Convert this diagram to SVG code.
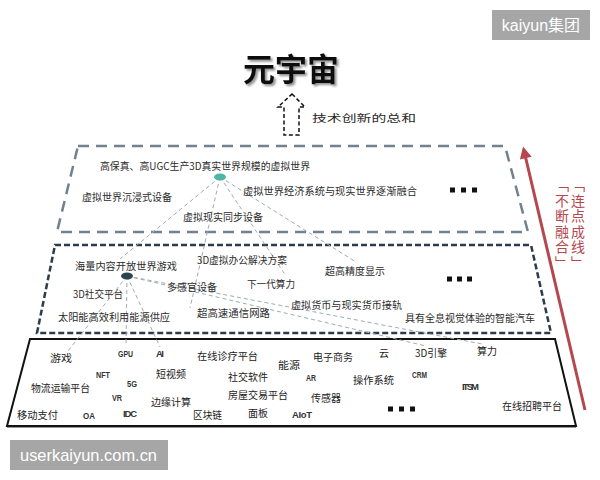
<svg xmlns="http://www.w3.org/2000/svg" width="600" height="480" viewBox="0 0 600 480">
<defs>
<style>
.t{font-family:"Noto Sans CJK SC","Noto Sans",sans-serif;font-size:10px;fill:#2b2b2b}
.b{font-family:"Noto Sans CJK SC","Noto Sans",sans-serif;font-size:10px;fill:#222}
.lat{font-family:"Liberation Sans","Noto Sans",sans-serif;font-size:9.5px;font-weight:bold;fill:#333}
.con{fill:none;stroke:#9fabb3;stroke-width:1;stroke-dasharray:4 3}
.red{font-family:"Noto Sans CJK SC",sans-serif;font-size:14px;fill:#b5474e;writing-mode:vertical-rl;letter-spacing:1.5px}
.wm{font-family:"Liberation Sans","Noto Sans CJK SC",sans-serif;fill:#fff}
</style>
<marker id="rh" viewBox="0 0 10 10" refX="1" refY="5" markerWidth="4.2" markerHeight="4" orient="auto" markerUnits="strokeWidth">
<path d="M0,0 L10,5 L0,10 Z" fill="#b5474e"/>
</marker>
<filter id="sh" x="-10%" y="-10%" width="130%" height="140%"><feDropShadow dx="2" dy="2" stdDeviation="1.2" flood-color="#777" flood-opacity="0.8"/></filter>
</defs>
<rect width="600" height="480" fill="#fff"/>

<g id="title">
<text x="291" y="81" text-anchor="middle" font-family="Noto Sans CJK SC,sans-serif" font-size="32" font-weight="bold" fill="#111" filter="url(#sh)">元宇宙</text>
</g>

<g id="sum-arrow">
<polygon points="292,94 305,107 299,107 299,135 284,135 284,107 278,107" fill="#fff" stroke="#111" stroke-width="1.5" stroke-dasharray="4 2.5"/>
<text x="312" y="122" class="t" font-size="13" textLength="104" lengthAdjust="spacingAndGlyphs">技术创新的总和</text>
</g>

<g id="layers">
<polygon id="layer-top" points="78,146 505,146 528,232 57,232" fill="none" stroke="#71818d" stroke-width="2.5" stroke-dasharray="11 7"/>
<polygon id="layer-mid" points="55,245 531,245 551,333 37,333" fill="none" stroke="#2d3b4a" stroke-width="2.5" stroke-dasharray="6 3"/>
<polygon id="layer-bottom" points="30,339 555,339 576,426 7,426" fill="#fff" stroke="#111" stroke-width="2"/>
<line x1="7" y1="427.5" x2="576" y2="427.5" stroke="#999" stroke-width="1"/>
</g>

<g id="connectors">
<line class="con" x1="220" y1="177" x2="120" y2="259"/>
<line class="con" x1="220" y1="177" x2="190" y2="308"/>
<line class="con" x1="220" y1="177" x2="286" y2="276"/>
<line class="con" x1="220" y1="177" x2="356" y2="262"/>
<line class="con" x1="127" y1="276" x2="68" y2="351"/>
<line class="con" x1="127" y1="276" x2="126" y2="346"/>
<line class="con" x1="127" y1="276" x2="160" y2="347"/>
<line class="con" x1="127" y1="276" x2="426" y2="346"/>
<line class="con" x1="127" y1="276" x2="482" y2="344"/>
</g>

<g id="node-top">
<ellipse cx="220" cy="177" rx="6" ry="3.5" fill="#4db5a5"/>
<text x="100" y="170" class="t" font-size="10.5" textLength="210" lengthAdjust="spacingAndGlyphs">高保真、高UGC生产3D真实世界规模的虚拟世界</text>
<text x="82" y="201" class="t" textLength="90" lengthAdjust="spacingAndGlyphs">虚拟世界沉浸式设备</text>
<text x="243" y="195" class="t" textLength="174" lengthAdjust="spacingAndGlyphs">虚拟世界经济系统与现实世界逐渐融合</text>
<text x="183" y="221" class="t" textLength="80" lengthAdjust="spacingAndGlyphs">虚拟现实同步设备</text>
<g fill="#111"><rect x="450" y="187.5" width="5" height="5"/><rect x="461" y="187.5" width="5" height="5"/><rect x="472" y="187.5" width="5" height="5"/></g>
</g>

<g id="node-mid">
<ellipse cx="127" cy="276" rx="6" ry="3.5" fill="#2c4450"/>
<text x="75" y="270" class="t" textLength="102" lengthAdjust="spacingAndGlyphs">海量内容开放世界游戏</text>
<text x="197" y="264" class="t" textLength="90" lengthAdjust="spacingAndGlyphs">3D虚拟办公解决方案</text>
<text x="73" y="298" class="t" textLength="50" lengthAdjust="spacingAndGlyphs">3D社交平台</text>
<text x="167" y="291" class="t" textLength="50" lengthAdjust="spacingAndGlyphs">多感官设备</text>
<text x="247" y="288" class="t" textLength="48" lengthAdjust="spacingAndGlyphs">下一代算力</text>
<text x="58" y="321" class="t" textLength="112" lengthAdjust="spacingAndGlyphs">太阳能高效利用能源供应</text>
<text x="197" y="317" class="t" textLength="73" lengthAdjust="spacingAndGlyphs">超高速通信网路</text>
<text x="325" y="275" class="t" textLength="60" lengthAdjust="spacingAndGlyphs">超高精度显示</text>
<text x="291" y="309" class="t" textLength="111" lengthAdjust="spacingAndGlyphs">虚拟货币与现实货币接轨</text>
<text x="405" y="322" class="t" textLength="130" lengthAdjust="spacingAndGlyphs">具有全息视觉体验的智能汽车</text>
<g fill="#111"><rect x="447" y="276.5" width="5" height="5"/><rect x="457" y="276.5" width="5" height="5"/><rect x="467" y="276.5" width="5" height="5"/></g>
</g>

<g id="node-bottom">
<text x="50" y="362" class="b" textLength="22" lengthAdjust="spacingAndGlyphs">游戏</text>
<text x="118" y="356.5" class="lat" textLength="15" lengthAdjust="spacingAndGlyphs">GPU</text>
<text x="156" y="356.5" class="lat" textLength="8" lengthAdjust="spacing">AI</text>
<text x="197" y="360" class="b" textLength="61" lengthAdjust="spacingAndGlyphs">在线诊疗平台</text>
<text x="278" y="369" class="b" textLength="22" lengthAdjust="spacingAndGlyphs">能源</text>
<text x="313" y="361" class="b" textLength="40" lengthAdjust="spacingAndGlyphs">电子商务</text>
<text x="379" y="357" class="b">云</text>
<text x="415" y="357" class="b" textLength="32" lengthAdjust="spacingAndGlyphs">3D引擎</text>
<text x="477" y="355" class="b" textLength="20" lengthAdjust="spacingAndGlyphs">算力</text>
<text x="96" y="377.5" class="lat" textLength="14" lengthAdjust="spacingAndGlyphs">NFT</text>
<text x="127" y="386.5" class="lat" textLength="10" lengthAdjust="spacingAndGlyphs">5G</text>
<text x="156" y="378" class="b" textLength="30" lengthAdjust="spacingAndGlyphs">短视频</text>
<text x="228" y="381" class="b" textLength="40" lengthAdjust="spacingAndGlyphs">社交软件</text>
<text x="306" y="380.5" class="lat" textLength="10" lengthAdjust="spacingAndGlyphs">AR</text>
<text x="353" y="384" class="b" textLength="41" lengthAdjust="spacingAndGlyphs">操作系统</text>
<text x="412" y="377.5" class="lat" textLength="15" lengthAdjust="spacingAndGlyphs">CRM</text>
<text x="462" y="389.5" class="lat" textLength="17" lengthAdjust="spacing">ITSM</text>
<text x="31" y="392" class="b" textLength="59" lengthAdjust="spacingAndGlyphs">物流运输平台</text>
<text x="112" y="400.5" class="lat" textLength="10" lengthAdjust="spacingAndGlyphs">VR</text>
<text x="151" y="406" class="b" textLength="40" lengthAdjust="spacingAndGlyphs">边缘计算</text>
<text x="228" y="399" class="b" textLength="60" lengthAdjust="spacingAndGlyphs">房屋交易平台</text>
<text x="311" y="402" class="b" textLength="30" lengthAdjust="spacingAndGlyphs">传感器</text>
<text x="17" y="419" class="b" textLength="41" lengthAdjust="spacingAndGlyphs">移动支付</text>
<text x="83" y="418.5" class="lat" textLength="12" lengthAdjust="spacingAndGlyphs">OA</text>
<text x="123" y="416.5" class="lat" textLength="14" lengthAdjust="spacing">IDC</text>
<text x="193" y="419" class="b" textLength="29" lengthAdjust="spacingAndGlyphs">区块链</text>
<text x="248" y="417" class="b" textLength="20" lengthAdjust="spacingAndGlyphs">面板</text>
<text x="292" y="417.5" class="lat" textLength="20" lengthAdjust="spacing">AIoT</text>
<text x="502" y="410" class="b" textLength="60" lengthAdjust="spacingAndGlyphs">在线招聘平台</text>
<g fill="#111"><rect x="388" y="406.5" width="5" height="5"/><rect x="399" y="406.5" width="5" height="5"/><rect x="410" y="406.5" width="5" height="5"/></g>
</g>

<g id="fusion-arrow">
<line x1="585" y1="410" x2="525.5" y2="157" stroke="#b5474e" stroke-width="3" marker-end="url(#rh)"/>
<text class="red" x="578" y="178">「连点成线」</text>
<text class="red" x="562" y="178">「不断融合」</text>
</g>

<g id="watermarks">
<rect x="492" y="10" width="98" height="30" fill="#a6a6a6"/>
<text x="541" y="31" class="wm" font-size="16" text-anchor="middle">kaiyun集团</text>
<rect x="10" y="440" width="158" height="30" fill="#a6a6a6"/>
<text x="20" y="461" class="wm" font-size="17" textLength="137" lengthAdjust="spacingAndGlyphs">userkaiyun.com.cn</text>
</g>
</svg>
